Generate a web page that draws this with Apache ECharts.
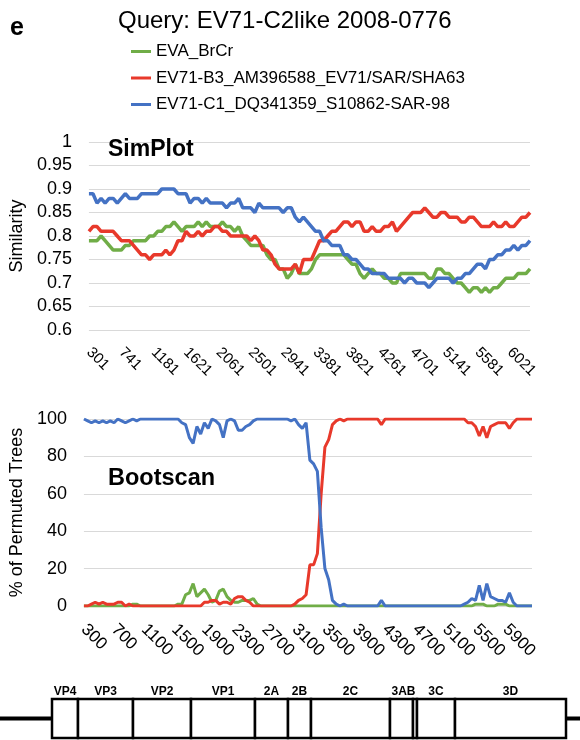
<!DOCTYPE html>
<html><head><meta charset="utf-8">
<script src="https://cdn.jsdelivr.net/npm/echarts@6/dist/echarts.min.js"></script>
<style>html,body{margin:0;padding:0;background:#fff}#c{width:580px;height:740px}</style>
</head><body><div id="c"></div>
<script>
const seriesNames = ['EVA_BrCr', 'EV71-B3_AM396588_EV71/SAR/SHA63', 'EV71-C1_DQ341359_S10862-SAR-98'];
const colors = ['#70ad47', '#e8392b', '#4472c4'];

// SimPlot window positions (nt)
const simPos = [301,356,411,466,521,576,631,686,741,796,851,906,961,1016,1071,1126,1181,1236,1291,1346,1401,1456,1511,1566,1621,1676,1731,1786,1841,1896,1951,2006,2061,2116,2171,2226,2281,2336,2391,2446,2501,2556,2611,2666,2721,2776,2831,2886,2941,2996,3051,3106,3161,3216,3271,3326,3381,3436,3491,3546,3601,3656,3711,3766,3821,3876,3931,3986,4041,4096,4151,4206,4261,4316,4371,4426,4481,4536,4591,4646,4701,4756,4811,4866,4921,4976,5031,5086,5141,5196,5251,5306,5361,5416,5471,5526,5581,5636,5691,5746,5801,5856,5911,5966,6021,6076,6131,6186,6241,6296];
const simGreen = [
.79,.79,.79,.80,.79,.78,.77,.77,.77,.78,
.78,.79,.79,.79,.79,.80,.80,.81,.81,.82,
.82,.83,.82,.81,.82,.82,.82,.83,.82,.83,
.82,.82,.82,.83,.82,.82,.81,.82,.80,.79,
.78,.78,.78,.78,.76,.75,.75,.73,.73,.71,
.72,.74,.72,.72,.72,.73,.75,.76,.76,.76,
.76,.76,.76,.76,.75,.74,.74,.72,.71,.72,
.73,.72,.72,.71,.71,.70,.70,.72,.72,.72,
.72,.72,.72,.72,.71,.71,.73,.73,.72,.72,
.71,.70,.70,.69,.68,.69,.69,.68,.69,.68,
.69,.69,.70,.71,.71,.71,.72,.72,.72,.73];
const simRed = [
.81,.82,.82,.81,.81,.81,.81,.80,.79,.79,
.79,.78,.77,.76,.76,.75,.76,.76,.76,.77,
.76,.77,.79,.79,.81,.80,.80,.81,.80,.81,
.81,.82,.82,.81,.81,.80,.80,.80,.80,.80,
.79,.80,.79,.77,.77,.76,.74,.73,.73,.73,
.73,.74,.72,.75,.75,.75,.77,.79,.79,.80,
.81,.81,.82,.83,.83,.82,.83,.83,.81,.81,
.82,.81,.81,.82,.82,.83,.81,.82,.83,.84,
.85,.85,.85,.86,.85,.84,.84,.85,.85,.84,
.84,.84,.83,.83,.84,.84,.83,.82,.82,.82,
.83,.82,.82,.83,.82,.82,.83,.84,.84,.85];
const simBlue = [
.89,.89,.87,.88,.87,.88,.88,.87,.88,.89,
.88,.88,.88,.89,.89,.89,.89,.89,.90,.90,
.90,.90,.89,.89,.89,.87,.88,.88,.87,.88,
.87,.87,.87,.87,.86,.87,.87,.88,.86,.86,
.86,.85,.87,.86,.86,.86,.86,.86,.85,.86,
.86,.84,.83,.84,.83,.82,.81,.81,.79,.79,
.78,.78,.78,.76,.76,.75,.75,.74,.73,.73,
.72,.72,.72,.72,.71,.71,.71,.71,.70,.71,
.71,.70,.70,.70,.69,.70,.71,.71,.71,.71,
.70,.71,.71,.72,.72,.73,.74,.74,.73,.75,
.75,.76,.76,.77,.77,.78,.77,.78,.78,.79];

// Bootscan window positions (nt)
const bootPos = [300,350,400,450,500,550,600,650,700,750,800,850,900,950,1000,1050,1100,1150,1200,1250,1300,1350,1400,1450,1500,1550,1600,1650,1700,1750,1800,1850,1900,1950,2000,2050,2100,2150,2200,2250,2300,2350,2400,2450,2500,2550,2600,2650,2700,2750,2800,2850,2900,2950,3000,3050,3100,3150,3200,3250,3300,3350,3400,3450,3500,3550,3600,3650,3700,3750,3800,3850,3900,3950,4000,4050,4100,4150,4200,4250,4300,4350,4400,4450,4500,4550,4600,4650,4700,4750,4800,4850,4900,4950,5000,5050,5100,5150,5200,5250,5300,5350,5400,5450,5500,5550,5600,5650,5700,5750,5800,5850,5900,5950,6000,6050,6100,6150,6200,6250];
const bootGreen = [
0,0,0,0,0,0,0,0,0,0,
0,0,0,1,1,0,0,0,0,0,
0,0,0,0,0,1,1,6,7,12,
5,7,9,6,2,3,8,9,5,3,
2,2,3,3,3,4,1,0,0,0,
0,0,0,0,0,0,0,0,0,0,
0,0,0,0,0,0,0,0,0,0,
0,0,0,0,0,0,0,0,0,0,
0,0,0,0,0,0,0,0,0,0,
0,0,0,0,0,0,0,0,0,0,
0,0,0,0,1,1,1,0,0,0,
1,1,1,0,0,0,0,0,0,0];
const bootRed = [
0,0,1,2,1,2,1,1,1,2,
2,0,1,0,0,0,0,0,0,0,
0,0,0,0,0,0,0,0,0,0,
0,0,2,2,3,3,1,2,2,1,
4,5,5,3,2,0,0,0,0,0,
0,0,0,0,0,0,1,3,4,6,
22,22,28,60,85,89,97,99,100,99,
100,100,100,100,100,100,100,100,100,97,
100,100,100,100,100,100,100,100,100,100,
100,100,100,100,100,100,100,100,100,100,
100,100,98,98,96,91,96,90,96,97,
98,98,98,95,98,100,100,100,100,100];
const bootBlue = [
100,99,98,99,98,99,98,99,98,100,
99,98,99,100,99,100,100,100,100,100,
100,100,100,100,100,100,98,97,90,87,
96,92,98,95,100,99,97,90,99,100,
99,94,94,96,97,99,100,100,100,100,
100,100,100,100,100,99,100,97,95,98,
78,76,72,42,20,14,3,1,0,1,
0,0,0,0,0,0,0,0,0,3,
0,0,0,0,0,0,0,0,0,0,
0,0,0,0,0,0,0,0,0,0,
0,1,2,4,3,11,3,12,5,4,
3,3,2,7,2,0,0,0,0,0];

// Genome map (schematic units)
const geneLabels = ['VP4','VP3','VP2','VP1','2A','2B','2C','3AB','','3C','3D'];
const geneBounds = [52,78,133,191,255,288,311,390,413,417,455,566];
const genomeSpan = [0, 580];

const FONT = '"Liberation Sans", Arial, sans-serif';
const chart = echarts.init(document.getElementById('c'), null, {renderer: 'canvas'});

function lineSeries(name, color, data, idx, width) {
  return {type: 'line', name, data, xAxisIndex: idx, yAxisIndex: idx, symbol: 'none',
    lineStyle: {color, width}, itemStyle: {color}, silent: true, animation: false};
}

const sim = [simGreen, simRed, simBlue];
const boot = [bootGreen, bootRed, bootBlue];
const series = [];
seriesNames.forEach((n, k) => series.push(lineSeries(n, colors[k], sim[k], 0, 3.5)));
seriesNames.forEach((n, k) => series.push(lineSeries(n, colors[k], boot[k], 1, 3)));

series.push({
  type: 'custom', xAxisIndex: 2, yAxisIndex: 2, silent: true, animation: false,
  data: [[genomeSpan[0], genomeSpan[1]]],
  renderItem: (params, api) => {
    const a = api.coord([api.value(0), 0.5]);
    const b = api.coord([api.value(1), 0.5]);
    return {type: 'line', shape: {x1: a[0], y1: a[1], x2: b[0], y2: b[1]}, style: {stroke: '#000', lineWidth: 4}};
  }
});
series.push({
  type: 'custom', xAxisIndex: 2, yAxisIndex: 2, silent: true, animation: false,
  data: geneLabels.map((g, k) => [geneBounds[k], geneBounds[k + 1], k]),
  renderItem: (params, api) => {
    const s = api.coord([api.value(0), 1]);
    const e = api.coord([api.value(1), 0]);
    const k = api.value(2);
    let cx = (s[0] + e[0]) / 2;
    if (geneLabels[k] === '3AB') {
      const e2 = api.coord([geneBounds[k + 2], 0]);
      cx = (s[0] + e2[0]) / 2;
    }
    return {type: 'group', children: [
      {type: 'rect', shape: {x: s[0], y: s[1], width: e[0] - s[0], height: e[1] - s[1]},
       style: {fill: '#fff', stroke: '#000', lineWidth: 2.5}},
      {type: 'text', style: {text: geneLabels[k], x: cx, y: s[1] - 1, textAlign: 'center', textVerticalAlign: 'bottom',
       font: 'bold 12px ' + FONT, fill: '#000'}}
    ]};
  }
});

const axisText = {color: '#000', fontFamily: FONT};
chart.setOption({
  animation: false,
  backgroundColor: '#fff',
  textStyle: {fontFamily: FONT},
  title: [
    {text: 'e', left: 10, top: 16, padding: 0, textStyle: {fontSize: 25, fontWeight: 'bold', color: '#000', fontFamily: FONT}},
    {text: 'Query: EV71-C2like 2008-0776', left: 118, top: 9, padding: 0, textStyle: {fontSize: 24, fontWeight: 'normal', color: '#000', fontFamily: FONT}},
    {text: 'SimPlot', left: 108, top: 138, padding: 0, textStyle: {fontSize: 23, fontWeight: 'bold', color: '#000', fontFamily: FONT}},
    {text: 'Bootscan', left: 108, top: 467, padding: 0, textStyle: {fontSize: 23.5, fontWeight: 'bold', color: '#000', fontFamily: FONT}}
  ],
  legend: {
    data: seriesNames, orient: 'vertical', left: 131, top: 43, itemGap: 9.5, itemWidth: 20, itemHeight: 3,
    icon: 'rect', padding: 0, selectedMode: false,
    textStyle: {fontSize: 17, color: '#000', fontFamily: FONT, lineHeight: 17}
  },
  grid: [
    {left: 87, right: 50, top: 142, height: 188},
    {left: 82, right: 48, top: 419, height: 187},
    {left: 0, right: 0, top: 699, height: 39}
  ],
  xAxis: [
    {type: 'category', gridIndex: 0, data: simPos, boundaryGap: false,
     axisLine: {show: false}, axisTick: {show: false},
     axisLabel: Object.assign({interval: 7, rotate: -45, fontSize: 15, margin: 20}, axisText)},
    {type: 'category', gridIndex: 1, data: bootPos, boundaryGap: false,
     axisLine: {show: false}, axisTick: {show: false},
     axisLabel: Object.assign({interval: 7, rotate: -45, fontSize: 17, margin: 21}, axisText)},
    {type: 'value', gridIndex: 2, min: 0, max: 580, show: false}
  ],
  yAxis: [
    {type: 'value', gridIndex: 0, min: 0.6, max: 1, interval: 0.05,
     name: 'Similarity', nameLocation: 'middle', nameGap: 54, nameRotate: 90,
     nameTextStyle: {fontSize: 18, color: '#000', fontFamily: FONT},
     axisLine: {show: false}, axisTick: {show: false},
     splitLine: {lineStyle: {color: '#d9d9d9', width: 1}},
     axisLabel: Object.assign({fontSize: 18, margin: 17}, axisText)},
    {type: 'value', gridIndex: 1, min: 0, max: 100, interval: 20,
     name: '% of Permuted Trees', nameLocation: 'middle', nameGap: 46, nameRotate: 90,
     nameTextStyle: {fontSize: 18, color: '#000', fontFamily: FONT},
     axisLine: {show: false}, axisTick: {show: false},
     splitLine: {lineStyle: {color: '#d9d9d9', width: 1}},
     axisLabel: Object.assign({fontSize: 18, margin: 17}, axisText)},
    {type: 'value', gridIndex: 2, min: 0, max: 1, show: false}
  ],
  series
});
</script></body></html>
